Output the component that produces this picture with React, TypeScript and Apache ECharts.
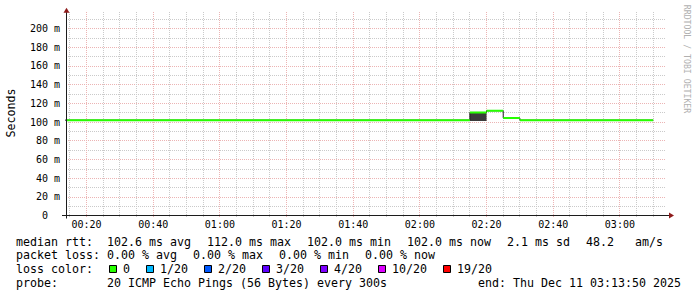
import { useEffect, useRef } from 'react';
import * as echarts from 'echarts';

// ---- data ----
const viewStart = '00:13:50';
const viewEnd = '03:13:50';
const intervalStarts = [
  '00:10', '00:15', '00:20', '00:25', '00:30', '00:35', '00:40', '00:45', '00:50', '00:55',
  '01:00', '01:05', '01:10', '01:15', '01:20', '01:25', '01:30', '01:35', '01:40', '01:45',
  '01:50', '01:55', '02:00', '02:05', '02:10', '02:15', '02:20', '02:25', '02:30', '02:35',
  '02:40', '02:45', '02:50', '02:55', '03:00', '03:05',
];
const lastIntervalEnd = '03:10';
const medianRtt = [
  102.0, 102.0, 102.0, 102.0, 102.0, 102.0, 102.0, 102.0, 102.0, 102.0,
  102.0, 102.0, 102.0, 102.0, 102.0, 102.0, 102.0, 102.0, 102.0, 102.0,
  102.0, 102.0, 102.0, 102.0, 102.0, 110.2, 112.0, 104.2, 102.0, 102.0,
  102.0, 102.0, 102.0, 102.0, 102.0, 102.0,
];
const smokeStarts = ['02:15'];
const smokeLow = [101.2];
const smokeHigh = [110.4];
const xTickLabels = ['00:20', '00:40', '01:00', '01:20', '01:40', '02:00', '02:20', '02:40', '03:00'];
const rttStats = ['102.6 ms avg', '112.0 ms max', '102.0 ms min', '102.0 ms now', '2.1 ms sd', '48.2   am/s'];
const lossStats = ['0.00 % avg', '0.00 % max', '0.00 % min', '0.00 % now'];
const lossLabels = ['0', '1/20', '2/20', '3/20', '4/20', '10/20', '19/20'];
const lossColors = ['#26ff00', '#00b8ff', '#0059ff', '#5e00ff', '#7e00ff', '#dd00ff', '#ff0000'];
const probeText = '20 ICMP Echo Pings (56 Bytes) every 300s';
const endText = 'end: Thu Dec 11 03:13:50 2025';
const yAxisTitle = 'Seconds';
const watermark = 'RRDTOOL / TOBI OETIKER';

// ---- helpers / layout ----
const toMin = (s: string) => {
  const p = s.split(':').map(Number);
  return p[0] * 60 + p[1] + (p[2] || 0) / 60;
};
const fmtMin = (v: number) => {
  const m = Math.round(v);
  const h = Math.floor(m / 60);
  const mm = m % 60;
  return `${String(h).padStart(2, '0')}:${String(mm).padStart(2, '0')}`;
};

const MONO = '"DejaVu Sans Mono", monospace';
const LEG_SIZE = 11.63;
const CW = 7;
const ITEM_GAP = 16;
const X0 = 16;
const LABEL_COLS = 13;
const ROW_Y = [241.6, 255.3, 269, 282.7];

const GRID_LEFT = 66;
const GRID_TOP = 9.8;
const GRID_W = 600;
const GRID_H = 205.7;
const Y_MAX = 220;
const Y_PLOT_TOP = 218;
const GRID_BOTTOM = GRID_TOP + GRID_H;

const MAJOR_COLOR = '#ecb4b4';
const MINOR_COLOR = '#cacaca';
const ARROW_COLOR = '#8e1b1b';
const AXIS_COLOR = '#1c1c1c';

function legendText(text: string, x: number, y: number, align = 'left') {
  return {
    type: 'text',
    x,
    y,
    silent: true,
    style: {
      text,
      font: `${LEG_SIZE}px ${MONO}`,
      fill: '#000',
      align,
      verticalAlign: 'middle',
      textAlign: align,
      textVerticalAlign: 'middle',
    },
  };
}

function buildGraphics() {
  const els: any[] = [];
  // row 1
  els.push(legendText('median rtt:', X0, ROW_Y[0]));
  let x = X0 + LABEL_COLS * CW;
  for (const s of rttStats) {
    els.push(legendText(s, x, ROW_Y[0]));
    x += s.length * CW + ITEM_GAP;
  }
  // row 2
  els.push(legendText('packet loss:', X0, ROW_Y[1]));
  x = X0 + LABEL_COLS * CW;
  for (const s of lossStats) {
    els.push(legendText(s, x, ROW_Y[1]));
    x += s.length * CW + ITEM_GAP;
  }
  // row 3
  els.push(legendText('loss color:', X0, ROW_Y[2]));
  let sx = X0 + LABEL_COLS * CW + 2;
  lossLabels.forEach((lab, i) => {
    els.push({
      type: 'rect',
      silent: true,
      shape: { x: sx + 0.5, y: ROW_Y[2] - 3.5, width: 7, height: 7 },
      style: { fill: lossColors[i], stroke: '#000', lineWidth: 1 },
    });
    const lx = sx + 14;
    els.push(legendText(lab, lx, ROW_Y[2]));
    sx = lx + lab.length * CW + ITEM_GAP;
  });
  // row 4
  els.push(legendText('probe:', X0, ROW_Y[3]));
  els.push(legendText(probeText, X0 + LABEL_COLS * CW, ROW_Y[3]));
  els.push(legendText(endText, 681, ROW_Y[3], 'right'));

  // y axis title
  els.push({
    type: 'text',
    x: 11,
    y: 113,
    rotation: Math.PI / 2,
    silent: true,
    style: {
      text: yAxisTitle,
      font: `${LEG_SIZE}px ${MONO}`,
      fill: '#000',
      align: 'center',
      verticalAlign: 'middle',
      textAlign: 'center',
      textVerticalAlign: 'middle',
    },
  });
  // watermark
  els.push({
    type: 'text',
    x: 687,
    y: 59,
    rotation: -Math.PI / 2,
    silent: true,
    style: {
      text: watermark,
      font: `8.2px ${MONO}`,
      fill: '#b0b0b0',
      align: 'center',
      verticalAlign: 'middle',
      textAlign: 'center',
      textVerticalAlign: 'middle',
    },
  });

  // axes lines + arrows
  const by = Math.floor(GRID_BOTTOM) + 0.5;
  const ax = GRID_LEFT + 0.5;
  els.push({
    type: 'line', silent: true, z: 50,
    shape: { x1: GRID_LEFT - 4, y1: by, x2: GRID_LEFT + GRID_W + 3, y2: by },
    style: { stroke: AXIS_COLOR, lineWidth: 1 },
  });
  els.push({
    type: 'line', silent: true, z: 50,
    shape: { x1: ax, y1: by + 3, x2: ax, y2: 10 },
    style: { stroke: AXIS_COLOR, lineWidth: 1 },
  });
  const rx = GRID_LEFT + GRID_W + 3;
  els.push({
    type: 'polygon', silent: true, z: 51,
    shape: { points: [[rx, by - 3], [rx + 5, by], [rx, by + 3]] },
    style: { fill: ARROW_COLOR },
  });
  els.push({
    type: 'polygon', silent: true, z: 51,
    shape: { points: [[ax - 3, 12.7], [ax, 7.7], [ax + 3, 12.7]] },
    style: { fill: ARROW_COLOR },
  });
  return els;
}

function buildOption() {
  const xMin = toMin(viewStart);
  const xMax = toMin(viewEnd);
  const starts = intervalStarts.map(toMin);
  const ends = starts.map((s, i) => (i + 1 < starts.length ? starts[i + 1] : toMin(lastIntervalEnd)));

  const stepData: number[][] = starts.map((s, i) => [s, medianRtt[i]]);
  stepData.push([ends[ends.length - 1], medianRtt[medianRtt.length - 1]]);

  const segData = starts.map((s, i) => [s, ends[i], medianRtt[i]]);
  const smokeData = smokeStarts.map((s, i) => [toMin(s), toMin(s) + 5, smokeLow[i], smokeHigh[i]]);

  const gridMinutes: number[][] = [];
  for (let m = Math.ceil(xMin / 5) * 5; m < xMax; m += 5) gridMinutes.push([m, 0]);

  const labelFont = { fontFamily: MONO, fontSize: 10, color: '#000' };

  return {
    animation: false,
    backgroundColor: '#ffffff',
    grid: { left: GRID_LEFT, top: GRID_TOP, width: GRID_W, height: GRID_H },
    xAxis: {
      type: 'value',
      min: xMin,
      max: xMax,
      axisLine: { show: false },
      axisTick: { show: false },
      splitLine: { show: false },
      axisLabel: {
        ...labelFont,
        margin: 4,
        customValues: xTickLabels.map(toMin),
        formatter: (v: number) => fmtMin(v),
      },
    },
    yAxis: {
      type: 'value',
      min: 0,
      max: Y_MAX,
      interval: 20,
      axisLine: { show: false },
      axisTick: { show: false },
      axisLabel: {
        ...labelFont,
        margin: 6,
        formatter: (v: number) => (v > 210 ? '' : v === 0 ? '0\u00a0\u00a0' : `${v} m`),
      },
      splitLine: {
        show: true,
        showMaxLine: false,
        lineStyle: { color: MAJOR_COLOR, width: 1, type: [1, 1] },
      },
      minorTick: { show: false, splitNumber: 2 },
      minorSplitLine: {
        show: true,
        lineStyle: { color: MINOR_COLOR, width: 1, type: [1, 1] },
      },
    },
    graphic: buildGraphics(),
    series: [
      {
        type: 'custom',
        name: 'xgrid',
        silent: true,
        z: 1,
        data: gridMinutes,
        encode: { x: 0, y: 1 },
        renderItem: (params: any, api: any) => {
          const t = api.value(0);
          const top = api.coord([t, Y_PLOT_TOP]);
          const bot = api.coord([t, 0]);
          const x = Math.floor(top[0]) + 0.5;
          const major = Math.round(t) % 20 === 0;
          return {
            type: 'line',
            silent: true,
            shape: { x1: x, y1: Math.round(top[1]), x2: x, y2: bot[1] + 2 },
            style: { stroke: major ? MAJOR_COLOR : MINOR_COLOR, lineWidth: 1, lineDash: [1, 1] },
          };
        },
      },
      {
        type: 'custom',
        name: 'smoke',
        silent: true,
        z: 2,
        clip: true,
        data: smokeData,
        encode: { x: [0, 1], y: [2, 3] },
        renderItem: (params: any, api: any) => {
          const p1 = api.coord([api.value(0), api.value(3)]);
          const p2 = api.coord([api.value(1), api.value(2)]);
          return {
            type: 'rect',
            shape: { x: p1[0], y: p1[1], width: p2[0] - p1[0], height: p2[1] - p1[1] },
            style: { fill: '#3c3c3c' },
          };
        },
      },
      {
        type: 'line',
        name: 'median edge',
        step: 'end',
        silent: true,
        z: 3,
        symbol: 'none',
        data: stepData,
        lineStyle: { color: '#202020', width: 1 },
      },
      {
        type: 'custom',
        name: 'median',
        silent: true,
        z: 4,
        clip: true,
        data: segData,
        encode: { x: [0, 1], y: 2 },
        renderItem: (params: any, api: any) => {
          const p1 = api.coord([api.value(0), api.value(2)]);
          const p2 = api.coord([api.value(1), api.value(2)]);
          return {
            type: 'line',
            shape: { x1: p1[0], y1: p1[1], x2: p2[0], y2: p2[1] },
            style: { stroke: lossColors[0], lineWidth: 2, lineCap: 'butt' },
          };
        },
      },
    ],
  };
}

export default function App() {
  const ref = useRef<HTMLDivElement>(null);
  useEffect(() => {
    if (!ref.current) return;
    const chart = echarts.init(ref.current, null, { renderer: 'svg' });
    chart.setOption(buildOption() as any);
    return () => chart.dispose();
  }, []);
  return (
    <div
      ref={ref}
      style={{ position: 'fixed', left: 0, top: 0, width: 697, height: 297, background: '#fff' }}
    />
  );
}
